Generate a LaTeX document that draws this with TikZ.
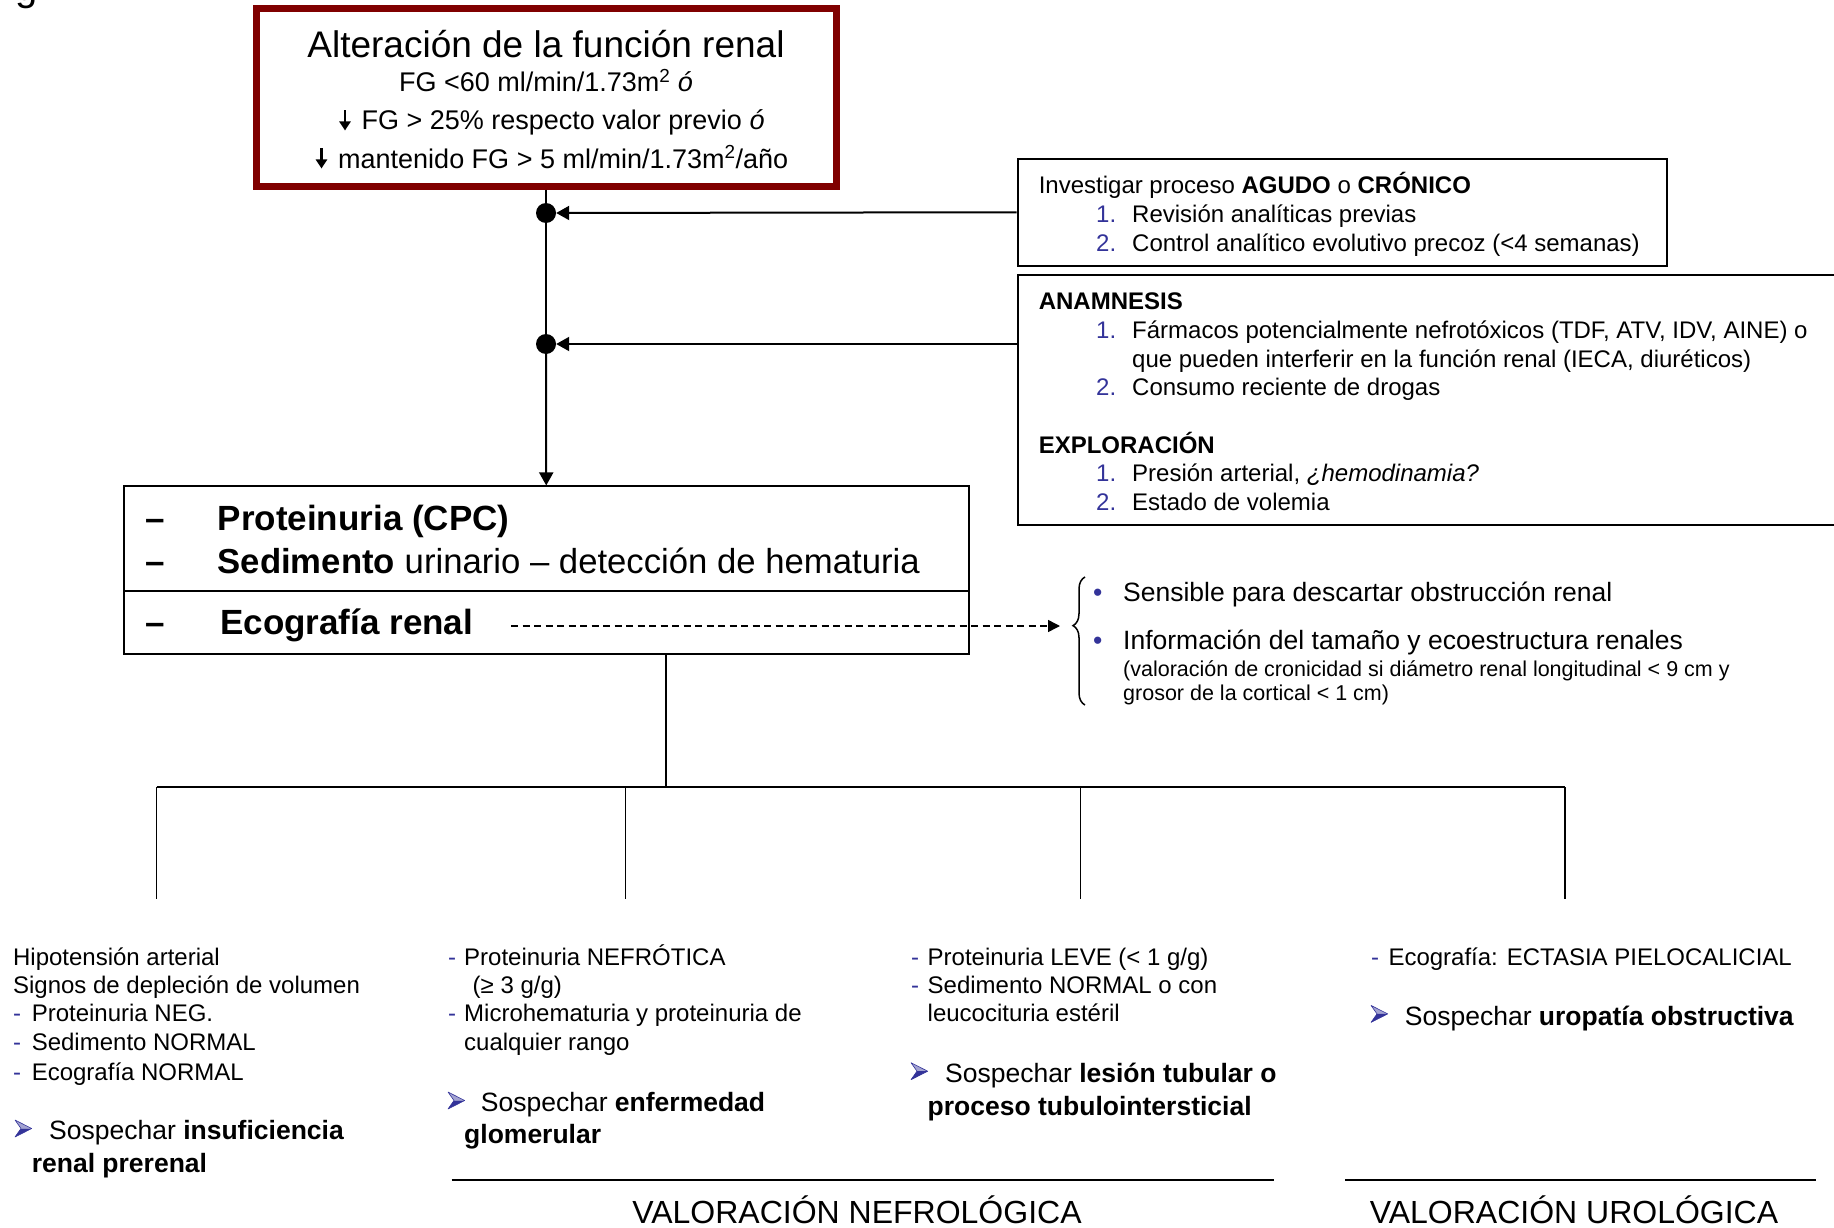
\documentclass[tikz,border=0pt]{standalone}
\usepackage{fontspec}
\setmainfont{Liberation Sans}
\usetikzlibrary{arrows.meta}
\usetikzlibrary{decorations.pathreplacing}
\definecolor{boxred}{RGB}{128,0,0}
\definecolor{listblue}{RGB}{51,51,153}
\newcommand{\fsz}[1]{\fontsize{#1}{#1}\selectfont}

\begin{document}
\begin{tikzpicture}[x=1pt,y=-1pt,
    txt/.style={inner sep=0pt,anchor=base west},
    ctxt/.style={inner sep=0pt,anchor=base},
    frame/.style={draw,line width=2pt,inner sep=0pt,minimum width=#1},
    link/.style={line width=2pt},
    tip/.style={-{Triangle[length=13pt,width=14pt]}},
    dot/.style={circle,fill,inner sep=0pt,minimum size=20pt},
    downarr/.pic={\draw[line width=2.6pt,-{Triangle[length=9pt,width=11pt]}] (0,-19.5) -- (0,0.5);},
    sosp/.pic={\fill[listblue!45] (0,-8.5) -- (16.7,0) -- (6,0) -- cycle;
      \fill[listblue] (6,0) -- (16.7,0) -- (0,8.5) -- cycle;
      \draw[listblue,line width=0.6pt,line join=round] (0,-8.5) -- (16.7,0) -- (0,8.5) -- (6,0) -- cycle;}]
\clip (0,0) rectangle (1834,1228);
\node[txt,font=\fsz{40}] (cut) at (15,1) {g};

% alteracion
\node[draw=boxred,line width=7pt,minimum width=580pt,minimum height=177pt,inner sep=0pt] (alt) at (546,97.5) {};
\node[ctxt,font=\fsz{37}] (alt1) at (546,57.5) {Alteración de la función renal};
\node[ctxt,font=\fsz{27}] (alt2) at (546,92) {FG <60 ml/min/1.73m\textsuperscript{2} \textit{ó}};
\pic at (345,130) {downarr};
\node[txt,font=\fsz{27}] (alt3) at (361.4,130) {FG > 25\% respecto valor previo \textit{ó}};
\pic at (321.5,168) {downarr};
\node[txt,font=\fsz{27}] (alt4) at (338,168) {mantenido FG > 5 ml/min/1.73m\textsuperscript{2}/año};

\node[dot] (j1) at (546,213) {};
\node[dot] (j2) at (546,344) {};

% investigar
\node[frame=649.5pt,minimum height=106.5pt] (inv) at (1342.25,212.25) {};
\node[txt,font=\fsz{24}] (inv0) at (1038.6,193.6) {Investigar proceso \textbf{AGUDO} o \textbf{CRÓNICO}};
\foreach \n/\y/\t in {1/222.6/{Revisión analíticas previas},2/251.6/{Control analítico evolutivo precoz (<4 semanas)}}{
  \node[txt,font=\fsz{24},text=listblue] (invn\n) at (1096,\y) {\n.};
  \node[txt,font=\fsz{24}] (inv\n) at (1132,\y) {\t};
}

% anamnesis
\node[frame=832.5pt,minimum height=250pt] (ana) at (1433.75,400) {};
\node[txt,font=\fsz{24}\bfseries] (ana0) at (1038.6,309.2) {ANAMNESIS};
\node[txt,font=\fsz{24},text=listblue] (anan1) at (1096,338.4) {1.};
\node[txt,font=\fsz{24}] (ana1) at (1132,338.4) {Fármacos potencialmente nefrotóxicos (TDF, ATV, IDV, AINE) o};
\node[txt,font=\fsz{24}] (ana1b) at (1132,367.6) {que pueden interferir en la función renal (IECA, diuréticos)};
\node[txt,font=\fsz{24},text=listblue] (anan2) at (1096,395.8) {2.};
\node[txt,font=\fsz{24}] (ana2) at (1132,395.8) {Consumo reciente de drogas};
\node[txt,font=\fsz{24}\bfseries] (exp0) at (1038.6,453.1) {EXPLORACIÓN};
\foreach \n/\y/\t in {1/481.1/{Presión arterial, \textit{¿hemodinamia?}},2/510.4/{Estado de volemia}}{
  \node[txt,font=\fsz{24},text=listblue] (expn\n) at (1096,\y) {\n.};
  \node[txt,font=\fsz{24}] (exp\n) at (1132,\y) {\t};
}

% pruebas
\node[frame=844.5pt,minimum height=104.1pt] (cpc) at (546.25,538.5) {};
\node[frame=844.5pt,minimum height=63.2pt] (eco) at (546.25,622.2) {};
\node[txt,font=\fsz{35}\bfseries] (d1) at (145,530.5) {–};
\node[txt,font=\fsz{35}\bfseries] (cpc1) at (217.5,530.5) {Proteinuria (CPC)};
\node[txt,font=\fsz{35}\bfseries] (d2) at (145,573.5) {–};
\node[txt,font=\fsz{34.7}] (cpc2) at (217.5,573.5) {\textbf{Sedimento} urinario – detección de hematuria};
\node[txt,font=\fsz{35}\bfseries] (d3) at (145,634.5) {–};
\node[txt,font=\fsz{35}\bfseries] (eco1) at (220,634.5) {Ecografía renal};

\draw[link] (alt.south) -- (j1) -- (j2);
\draw[link,tip] (j2) -- (cpc.north);
\draw[link,tip] (inv.west) -- (j1.east);
\draw[link,tip] (ana.west |- j2) -- (j2.east);

% ecografia
\coordinate (ecoend) at (511,626);
\coordinate (brtip) at (1060,626);
\draw[line width=1.5pt,dash pattern=on 7pt off 4.5pt,-{Triangle[length=12pt,width=12pt]}] (ecoend) -- (brtip);
\draw[line width=1.5pt,decorate,decoration={brace,amplitude=12pt,aspect=0.62}] (1085,705) -- (1085,577);
\node[txt,font=\fsz{26.5},text=listblue] (b1) at (1093,601.5) {•};
\node[txt,font=\fsz{26.5}] (s1) at (1123,601.5) {Sensible para descartar obstrucción renal};
\node[txt,font=\fsz{26.5},text=listblue] (b2) at (1093,649.5) {•};
\node[txt,font=\fsz{26.5}] (s2) at (1123,649.5) {Información del tamaño y ecoestructura renales};
\node[txt,font=\fsz{21.5}] (s3) at (1123,676.2) {(valoración de cronicidad si diámetro renal longitudinal < 9 cm y};
\node[txt,font=\fsz{21.5}] (s4) at (1123,700.7) {grosor de la cortical < 1 cm)};

% ramas
\coordinate (split) at (665.5,787);
\draw[link] (eco.south -| split) -- (split);
\foreach \i/\x in {1/156.7,2/625.7,3/1080.7,4/1565}{
  \coordinate (top\i) at (\x,787);
  \coordinate (leg\i) at (\x,899);
  \draw[line width=1.5pt] (top\i) -- (leg\i);
}
\draw[line width=2.5pt] (top1) -- (top4);

% prerenal
\node[txt,font=\fsz{24}] (p1) at (12.9,965.3) {Hipotensión arterial};
\node[txt,font=\fsz{24}] (p2) at (12.9,993.4) {Signos de depleción de volumen};
\foreach \i/\y/\t in {3/1021.5/{Proteinuria NEG.},4/1050.6/{Sedimento NORMAL},5/1080/{Ecografía NORMAL}}{
  \node[txt,font=\fsz{24},text=listblue] (pd\i) at (12.9,\y) {-};
  \node[txt,font=\fsz{24}] (p\i) at (31.6,\y) {\t};
}
\pic at (15,1128.5) {sosp};
\node[txt,font=\fsz{26.5}] (ps1) at (49,1139.8) {Sospechar \textbf{insuficiencia}};
\node[txt,font=\fsz{26.5}\bfseries] (ps2) at (31.6,1172.6) {renal prerenal};

% glomerular
\node[txt,font=\fsz{24},text=listblue] (gd1) at (448,965.3) {-};
\node[txt,font=\fsz{24}] (g1) at (464,965.3) {Proteinuria NEFRÓTICA};
\node[txt,font=\fsz{24}] (g2) at (472.5,993.4) {(≥ 3 g/g)};
\node[txt,font=\fsz{24},text=listblue] (gd3) at (448,1021.5) {-};
\node[txt,font=\fsz{24}] (g3) at (464,1021.5) {Microhematuria y proteinuria de};
\node[txt,font=\fsz{24}] (g4) at (464,1050.6) {cualquier rango};
\pic at (448,1100.5) {sosp};
\node[txt,font=\fsz{26.5}] (gs1) at (480.7,1111.8) {Sospechar \textbf{enfermedad}};
\node[txt,font=\fsz{26.5}\bfseries] (gs2) at (464,1143.3) {glomerular};

% tubular
\node[txt,font=\fsz{24},text=listblue] (td1) at (911,965.3) {-};
\node[txt,font=\fsz{24}] (t1) at (927.5,965.3) {Proteinuria LEVE (< 1 g/g)};
\node[txt,font=\fsz{24},text=listblue] (td2) at (911,993.4) {-};
\node[txt,font=\fsz{24}] (t2) at (927.5,993.4) {Sedimento NORMAL o con};
\node[txt,font=\fsz{24}] (t3) at (927.5,1021.5) {leucocituria estéril};
\pic at (911,1071.2) {sosp};
\node[txt,font=\fsz{26.5}] (ts1) at (945,1082.5) {Sospechar \textbf{lesión tubular o}};
\node[txt,font=\fsz{26.5}\bfseries] (ts2) at (927.5,1115.3) {proceso tubulointersticial};

% obstructiva
\node[txt,font=\fsz{24},text=listblue] (od1) at (1370.8,965.3) {-};
\node[txt,font=\fsz{24}] (o1) at (1388.3,965.3) {Ecografía: ECTASIA PIELOCALICIAL};
\pic at (1371,1013.9) {sosp};
\node[txt,font=\fsz{26.5}] (os1) at (1404.7,1025.2) {Sospechar \textbf{uropatía obstructiva}};

% valoracion
\draw[line width=2.5pt] (451.5,1180) -- (1273.7,1180);
\draw[line width=2.5pt] (1345,1180) -- (1816.4,1180);
\node[ctxt,font=\fsz{32}] (nefro) at (857,1223.2) {VALORACIÓN NEFROLÓGICA};
\node[ctxt,font=\fsz{32}] (uro) at (1574,1223.2) {VALORACIÓN UROLÓGICA};
\end{tikzpicture}
\end{document}
